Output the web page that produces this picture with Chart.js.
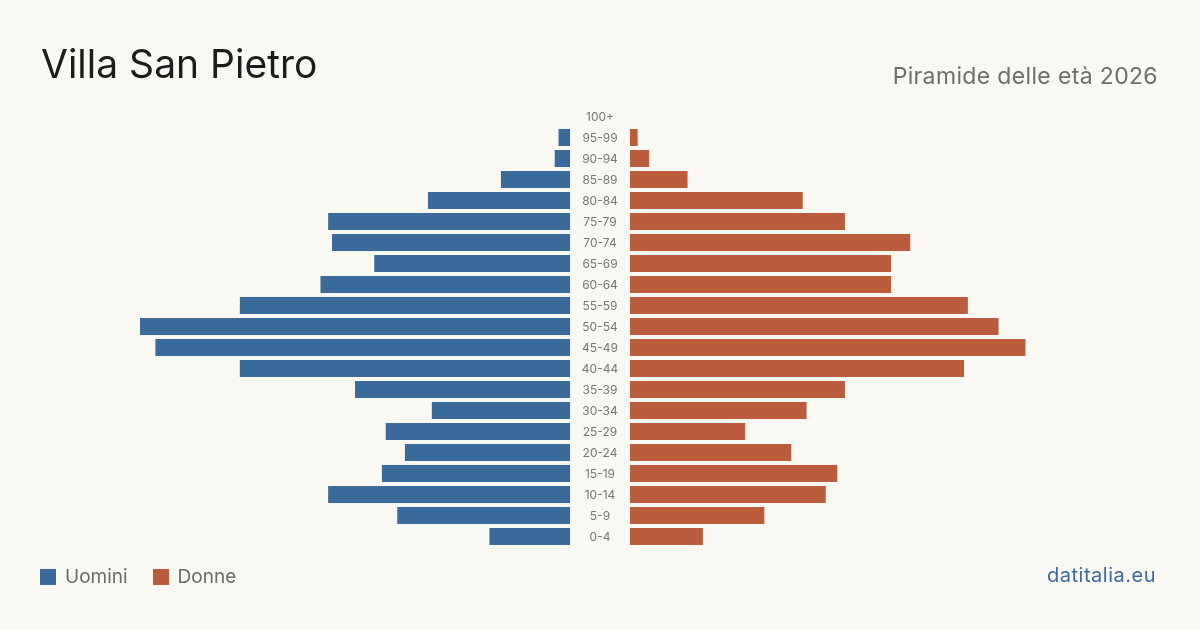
<!DOCTYPE html>
<html>
<head>
<meta charset="utf-8">
<script src="https://cdn.jsdelivr.net/npm/chart.js@4/dist/chart.umd.min.js"></script>
<style>
  html, body { margin: 0; padding: 0; background: #faf8f3; }
  body { width: 1200px; height: 630px; position: relative; overflow: hidden; font-family: Inter, "Noto Sans", sans-serif; }
  #wrap { position: absolute; left: 0; top: 0; width: 1200px; height: 630px; }
  .title { position: absolute; left: 41px; top: 40px; font-size: 39px; color: #1c1c1c; letter-spacing: 0px; }
  .sub { position: absolute; right: 42px; top: 62px; font-size: 23px; color: #6e6e6e; letter-spacing: 0.35px; }
  .legend { position: absolute; left: 40px; top: 565px; font-size: 19px; color: #6a6a6a; display: flex; align-items: center; }
  .legend span.sw { display: inline-block; width: 16px; height: 16px; margin-right: 9px; }
  .legend .item { display: flex; align-items: center; margin-right: 25px; }
  .brand { position: absolute; right: 44px; top: 563px; font-size: 20px; color: #3b6b9b; letter-spacing: 0.5px; }
</style>
</head>
<body>
<div id="wrap"><canvas id="pyr"></canvas></div>
<div class="title">Villa San Pietro</div>
<div class="sub">Piramide delle età 2026</div>
<div class="legend">
  <div class="item"><span class="sw" style="background:#3b6b9b"></span>Uomini</div>
  <div class="item"><span class="sw" style="background:#bb5d3d"></span>Donne</div>
</div>
<div class="brand">datitalia.eu</div>
<script>
const ageGroups = ['100+','95-99','90-94','85-89','80-84','75-79','70-74','65-69','60-64','55-59','50-54',
                   '45-49','40-44','35-39','30-34','25-29','20-24','15-19','10-14','5-9','0-4'];
const men   = [0, 3, 4, 18, 37, 63, 62, 51, 65, 86, 112, 108, 86, 56, 36, 48, 43, 49, 63, 45, 21];
const women = [0, 2, 5, 15, 45, 56, 73, 68, 68, 88, 96, 103, 87, 56, 46, 30, 42, 54, 51, 35, 19];

const maxVal = 112;
const gap = 7.8; // half of the label gap, in value units

const centerLabels = {
    id: 'centerLabels',
    afterDatasetsDraw(chart) {
        const ctx = chart.ctx, y = chart.scales.y, x = chart.scales.x;
        ctx.save();
        ctx.font = '12px Inter, "Noto Sans", sans-serif';
        ctx.fillStyle = '#777';
        ctx.textAlign = 'center';
        ctx.textBaseline = 'middle';
        ageGroups.forEach((g, i) => ctx.fillText(g, x.getPixelForValue(0), y.getPixelForValue(i) + 1));
        ctx.restore();
    }
};

new Chart(document.getElementById('pyr'), {
    type: 'bar',
    data: {
        labels: ageGroups,
        datasets: [
            { label: 'Uomini', data: men.map(v => [-gap - v, -gap]), backgroundColor: '#3b6b9b', borderWidth: 0 },
            { label: 'Donne', data: women.map(v => [gap, gap + v]), backgroundColor: '#bb5d3d', borderWidth: 0 }
        ]
    },
    options: {
        indexAxis: 'y',
        responsive: true, maintainAspectRatio: false, animation: false,
        layout: { padding: { left: 140, right: 140, top: 106, bottom: 83 } },
        datasets: { bar: { grouped: false, barPercentage: 0.81, categoryPercentage: 1 } },
        scales: {
            x: { display: false, min: -(maxVal + gap), max: maxVal + gap },
            y: { display: false }
        },
        plugins: { legend: { display: false }, tooltip: { enabled: false } }
    },
    plugins: [centerLabels]
});
</script>
</body>
</html>
